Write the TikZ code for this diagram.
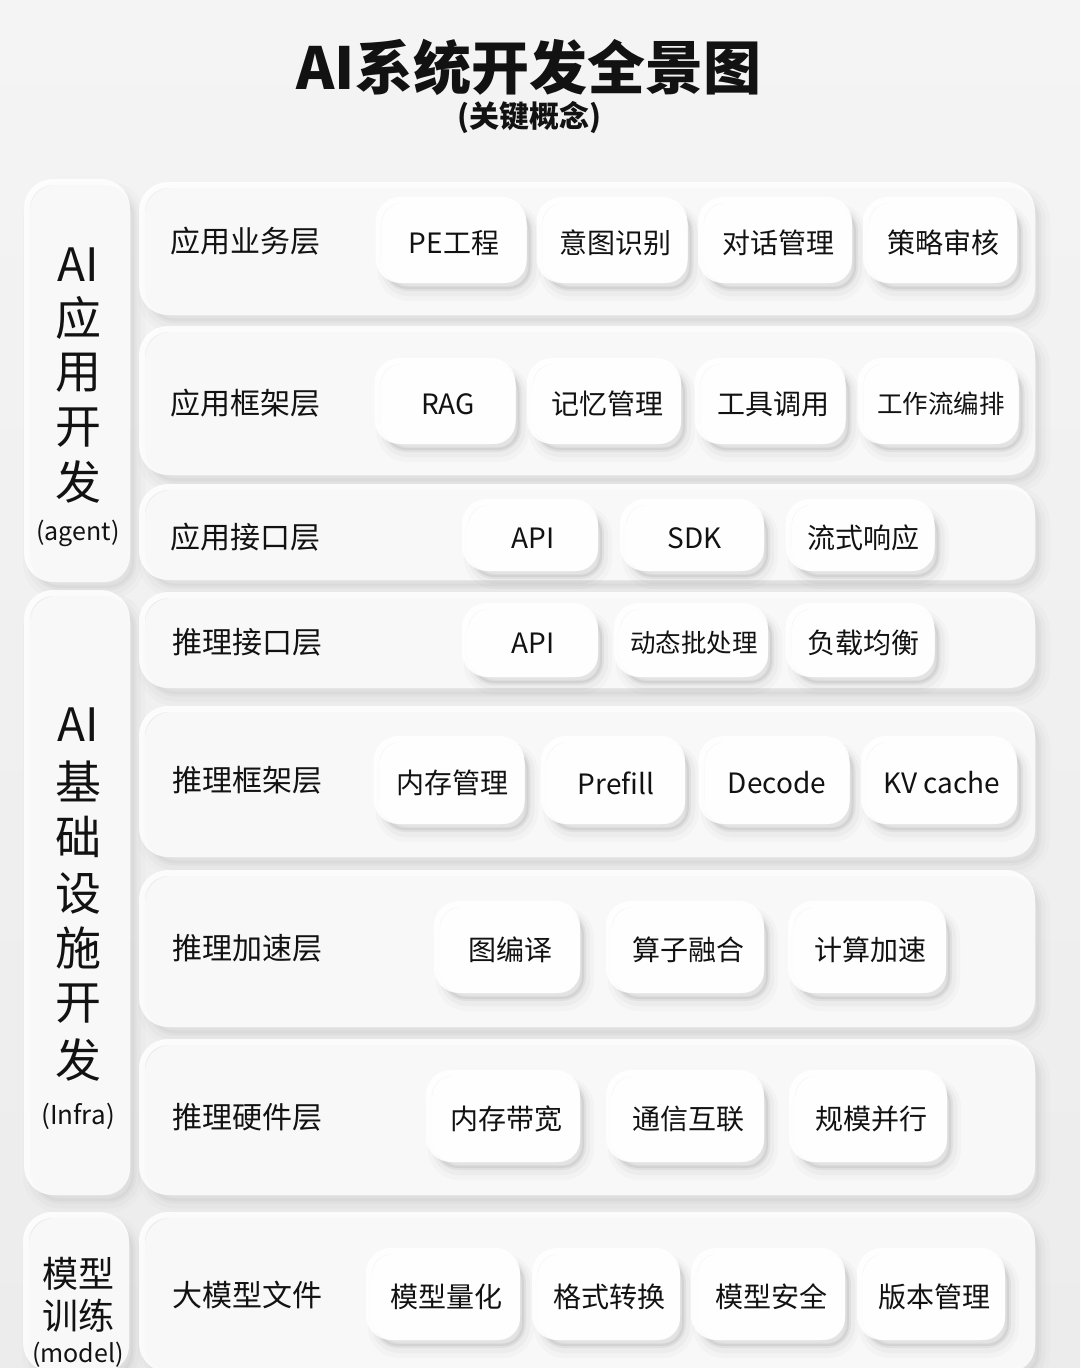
\documentclass[tikz,border=0pt]{standalone}
\usepackage{fontspec}
\setmainfont{Noto Sans CJK SC}
\definecolor{bgtop}{HTML}{F4F4F4}
\definecolor{bgc}{HTML}{ECECEC}
\definecolor{panelc}{HTML}{F8F8F8}
\definecolor{chipc}{HTML}{FEFEFE}
\definecolor{shc}{HTML}{707070}
\definecolor{txt}{HTML}{121212}
\tikzset{
  panel/.style={draw=none, fill=panelc, rounded corners=26pt, inner sep=0pt,
    preaction={draw=shc, line width=22pt, draw opacity=0.025, transform canvas={shift={(4pt,-7pt)}}},
    preaction={draw=shc, line width=13pt, draw opacity=0.035, transform canvas={shift={(4pt,-7pt)}}},
    preaction={draw=shc, line width=5pt, draw opacity=0.05, fill=shc, fill opacity=0.06, transform canvas={shift={(4pt,-6pt)}}},
    preaction={draw=white, line width=6pt, draw opacity=0.85, transform canvas={shift={(-3pt,3pt)}}}},
  chip/.style={draw=none, fill=chipc, rounded corners=22pt, inner sep=0pt,
    minimum width=145pt, minimum height=80pt, text=txt, font=\fontsize{28}{30}\selectfont,
    preaction={draw=shc, line width=18pt, draw opacity=0.035, transform canvas={shift={(5pt,-9pt)}}},
    preaction={draw=shc, line width=10pt, draw opacity=0.05, transform canvas={shift={(5pt,-8pt)}}},
    preaction={draw=shc, line width=4pt, draw opacity=0.09, fill=shc, fill opacity=0.12, transform canvas={shift={(4pt,-6pt)}}},
    preaction={draw=white, line width=6pt, draw opacity=0.9, transform canvas={shift={(-3pt,3pt)}}}},
  rowlabel/.style={anchor=west, inner sep=0pt, text=txt, font=\fontsize{30}{32}\selectfont},
  bigchar/.style={inner sep=0pt, text=txt, font=\fontsize{46}{48}\selectfont},
  smalltag/.style={inner sep=0pt, text=txt, font=\fontsize{25}{27}\selectfont},
  five/.style={font=\fontsize{25.5}{27}\selectfont},
}
\begin{document}
\begin{tikzpicture}[x=1pt, y=-1pt]
\useasboundingbox (0,0) rectangle (1080,1368);
\shade[top color=bgtop, bottom color=bgc] (0,0) rectangle (1080,1368);

% title
\node[text=txt, inner sep=0pt, font=\fontsize{58}{60}\selectfont\bfseries] (title) at (529,67) {AI系统开发全景图};
\node[text=txt, inner sep=0pt, font=\fontsize{30}{32}\selectfont\bfseries] (subtitle) at (529,118) {(关键概念)};

% left column panels
\node[panel, minimum width=100pt, minimum height=397pt] (L1) at (80,383.5) {};
\node[panel, minimum width=100pt, minimum height=599pt] (L2) at (80,895.5) {};
\node[panel, minimum width=100pt, minimum height=154pt] (L3) at (79,1295) {};

% row panels
\node[panel, minimum width=890pt, minimum height=127pt] (R1) at (590,251.5) {};
\node[panel, minimum width=890pt, minimum height=143pt] (R2) at (590,403.5) {};
\node[panel, minimum width=890pt, minimum height=90pt] (R3) at (590,535) {};
\node[panel, minimum width=890pt, minimum height=90pt] (R4) at (590,643) {};
\node[panel, minimum width=890pt, minimum height=145pt] (R5) at (590,784.5) {};
\node[panel, minimum width=890pt, minimum height=151pt] (R6) at (590,951.5) {};
\node[panel, minimum width=890pt, minimum height=150pt] (R7) at (590,1120) {};
\node[panel, minimum width=890pt, minimum height=154pt] (R8) at (590,1295) {};

% left column texts
\foreach \t/\y [count=\i] in {AI/265, 应/318, 用/373, 开/428, 发/482}
  \node[bigchar] (a\i) at (78,\y) {\t};
\node[smalltag] (agent) at (78,533) {(agent)};
\foreach \t/\y [count=\i] in {AI/725, 基/781, 础/837, 设/893, 施/948, 开/1004, 发/1060}
  \node[bigchar] (b\i) at (78,\y) {\t};
\node[smalltag, font=\fontsize{26}{28}\selectfont] (infra) at (78,1116) {(Infra)};
\node[bigchar, font=\fontsize{36}{38}\selectfont] (m1) at (78,1274) {模型};
\node[bigchar, font=\fontsize{36}{38}\selectfont] (m2) at (78,1316) {训练};
\node[smalltag] (model) at (78,1355) {(model)};

% row labels
\node[rowlabel] (l1) at (170,241) {应用业务层};
\node[rowlabel] (l2) at (170,403) {应用框架层};
\node[rowlabel] (l3) at (170,537) {应用接口层};
\node[rowlabel] (l4) at (172,642) {推理接口层};
\node[rowlabel] (l5) at (172,780) {推理框架层};
\node[rowlabel] (l6) at (172,948) {推理加速层};
\node[rowlabel] (l7) at (172,1117) {推理硬件层};
\node[rowlabel] (l8) at (172,1295) {大模型文件};

% chips row 1
\node[chip] (c11) at (454,243) {PE工程};
\node[chip] (c12) at (615,243) {意图识别};
\node[chip, minimum width=148pt] (c13) at (778,243) {对话管理};
\node[chip, minimum width=148pt] (c14) at (943,243) {策略审核};
% row 2
\node[chip, minimum width=135pt] (c21) at (448,404) {RAG};
\node[chip, minimum width=148pt] (c22) at (607,404) {记忆管理};
\node[chip] (c23) at (773,404) {工具调用};
\node[chip, minimum width=155pt, five] (c24) at (941,404) {工作流编排};
% row 3
\node[chip, minimum width=130pt, minimum height=66pt] (c31) at (533,538) {API};
\node[chip, minimum width=138pt, minimum height=66pt] (c32) at (695,538) {SDK};
\node[chip, minimum width=143pt, minimum height=66pt] (c33) at (863,538) {流式响应};
% row 4
\node[chip, minimum width=130pt, minimum height=68pt] (c41) at (533,643) {API};
\node[chip, minimum width=148pt, minimum height=68pt, five] (c42) at (694,643) {动态批处理};
\node[chip, minimum width=143pt, minimum height=68pt] (c43) at (863,643) {负载均衡};
% row 5
\node[chip, minimum width=145pt, minimum height=82pt] (c51) at (452,783) {内存管理};
\node[chip, minimum width=138pt, minimum height=82pt] (c52) at (616,783) {Prefill};
\node[chip, minimum width=145pt, minimum height=82pt] (c53) at (777,783) {Decode};
\node[chip, minimum width=150pt, minimum height=82pt] (c54) at (942,783) {KV cache};
% row 6
\node[chip, minimum width=140pt, minimum height=86pt] (c61) at (510,950) {图编译};
\node[chip, minimum width=152pt, minimum height=86pt] (c62) at (688,950) {算子融合};
\node[chip, minimum width=152pt, minimum height=86pt] (c63) at (870,950) {计算加速};
% row 7
\node[chip, minimum width=148pt, minimum height=86pt] (c71) at (506,1119) {内存带宽};
\node[chip, minimum width=152pt, minimum height=86pt] (c72) at (688,1119) {通信互联};
\node[chip, minimum width=152pt, minimum height=86pt] (c73) at (871,1119) {规模并行};
% row 8
\node[chip, minimum width=148pt, minimum height=86pt] (c81) at (446,1297) {模型量化};
\node[chip, minimum width=142pt, minimum height=86pt] (c82) at (609,1297) {格式转换};
\node[chip, minimum width=148pt, minimum height=86pt] (c83) at (771,1297) {模型安全};
\node[chip, minimum width=142pt, minimum height=86pt] (c84) at (934,1297) {版本管理};
\end{tikzpicture}
\end{document}
